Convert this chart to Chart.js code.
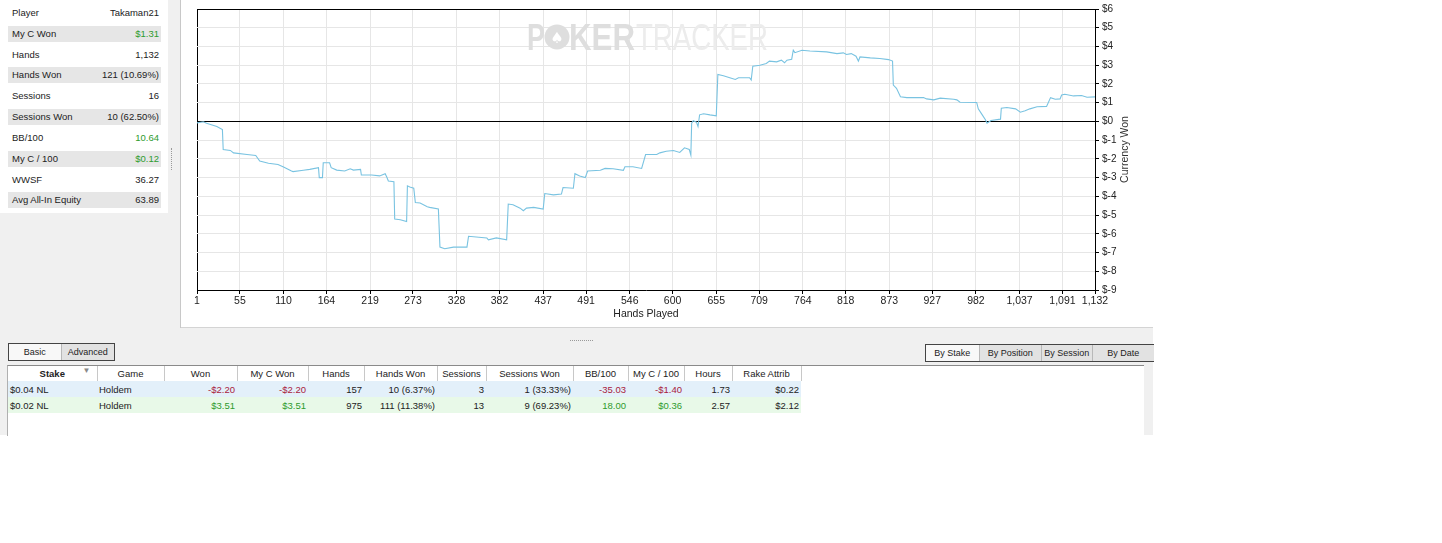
<!DOCTYPE html>
<html>
<head>
<meta charset="utf-8">
<title>Currency Won</title>
<script src="https://cdn.jsdelivr.net/npm/chart.js@4.4.1/dist/chart.umd.min.js"></script>
<style>
body { margin: 0; background: #fff; font-family: "Liberation Sans", Arial, sans-serif; font-size: 9.5px; color: #222; }
#app { position: absolute; left: 0; top: 0; width: 1153px; height: 435px; background: #f0f0f0; }
#stats { position: absolute; left: 0; top: 0; width: 168px; height: 213px; background: #fff; }
.row { position: absolute; left: 8px; width: 153px; height: 16px; line-height: 16px; }
.row.alt { background: #e6e6e6; }
.row .k { position: absolute; left: 4px; }
.row .v { position: absolute; right: 2px; }
.pos { color: #2e9b2e; }
.neg { color: #a8203c; }
#vsplit { position: absolute; left: 171px; top: 148px; height: 22px; border-left: 1px dotted #999; }
#panelLine { position: absolute; left: 180px; top: 0; width: 1px; height: 328px; background: #c8c8c8; }
#chartPanel { position: absolute; left: 181px; top: 0; width: 972px; height: 327px; background: #fff; border-bottom: 1px solid #d4d4d4; }
#chartPanel canvas { position: absolute; left: 0; top: 0; }
#hsplit { position: absolute; left: 570px; top: 340px; width: 23px; border-top: 1px dotted #999; }
.seg { position: absolute; border: 1px solid #444; height: 16px; display: flex; font-size: 9px; }
.seg div { height: 16px; line-height: 16px; text-align: center; border-left: 1px solid #b8b8b8; background: #e2e2e2; white-space: nowrap; overflow: hidden; }
.seg div:first-child { border-left: none; background: #f8f8f8; }
#tableBox { position: absolute; left: 7px; top: 365px; width: 1136px; height: 70px; background: #fff; border-top: 1px solid #8a8a8a; border-left: 1px solid #b0b0b0; }
table { border-collapse: collapse; table-layout: fixed; width: 793px; font-size: 9.5px; }
th { font-weight: normal; height: 15px; padding: 0; text-align: center; border-right: 1px solid #c8c8c8; white-space: nowrap; }
th.b { font-weight: bold; position: relative; }
th.b span { position: absolute; right: 6px; top: 0; color: #888; font-size: 8px; }
td { height: 16px; padding: 0 2px 0 0; text-align: right; white-space: nowrap; }
td.l { text-align: left; padding-left: 2px; }
tr.r1 td { background: #e3f0fa; }
tr.r2 td { background: #e8f9e8; }
</style>
</head>
<body>
<div id="app">
  <div id="stats">
    <div class="row" style="top:5px"><span class="k">Player</span><span class="v">Takaman21</span></div>
    <div class="row alt" style="top:26px"><span class="k">My C Won</span><span class="v pos">$1.31</span></div>
    <div class="row" style="top:47px"><span class="k">Hands</span><span class="v">1,132</span></div>
    <div class="row alt" style="top:67px"><span class="k">Hands Won</span><span class="v">121 (10.69%)</span></div>
    <div class="row" style="top:88px"><span class="k">Sessions</span><span class="v">16</span></div>
    <div class="row alt" style="top:109px"><span class="k">Sessions Won</span><span class="v">10 (62.50%)</span></div>
    <div class="row" style="top:130px"><span class="k">BB/100</span><span class="v pos">10.64</span></div>
    <div class="row alt" style="top:151px"><span class="k">My C / 100</span><span class="v pos">$0.12</span></div>
    <div class="row" style="top:172px"><span class="k">WWSF</span><span class="v">36.27</span></div>
    <div class="row alt" style="top:192px"><span class="k">Avg All-In Equity</span><span class="v">63.89</span></div>
  </div>
  <div id="vsplit"></div>
  <div id="panelLine"></div>
  <div id="chartPanel"><canvas id="grafico" width="972" height="327"></canvas></div>
  <div id="hsplit"></div>

  <div class="seg" style="left:8px;top:343px;width:105px">
    <div style="width:52px">Basic</div><div style="width:53px">Advanced</div>
  </div>
  <div class="seg" style="left:925px;top:344px;width:228px;border-right:none">
    <div style="width:53px">By Stake</div><div style="width:62px">By Position</div><div style="width:50px">By Session</div><div style="width:62px">By Date</div>
  </div>

  <div id="tableBox">
    <table>
      <colgroup>
        <col style="width:89px"><col style="width:67px"><col style="width:73px"><col style="width:71px">
        <col style="width:56px"><col style="width:73px"><col style="width:49px"><col style="width:87px">
        <col style="width:55px"><col style="width:56px"><col style="width:48px"><col style="width:69px">
      </colgroup>
      <tr>
        <th class="b">Stake<span>&#9660;</span></th><th>Game</th><th>Won</th><th>My C Won</th><th>Hands</th><th>Hands Won</th>
        <th>Sessions</th><th>Sessions Won</th><th>BB/100</th><th>My C / 100</th><th>Hours</th><th>Rake Attrib</th>
      </tr>
      <tr class="r1">
        <td class="l">$0.04 NL</td><td class="l">Holdem</td><td class="neg">-$2.20</td><td class="neg">-$2.20</td><td>157</td><td>10 (6.37%)</td>
        <td>3</td><td>1 (33.33%)</td><td class="neg">-35.03</td><td class="neg">-$1.40</td><td>1.73</td><td>$0.22</td>
      </tr>
      <tr class="r2">
        <td class="l">$0.02 NL</td><td class="l">Holdem</td><td class="pos">$3.51</td><td class="pos">$3.51</td><td>975</td><td>111 (11.38%)</td>
        <td>13</td><td>9 (69.23%)</td><td class="pos">18.00</td><td class="pos">$0.36</td><td>2.57</td><td>$2.12</td>
      </tr>
    </table>
  </div>
</div>

<script>
// manos jugadas y dinero ganado acumulado
const hands = [1, 9, 13, 26, 33, 34, 43, 47, 64, 75, 80, 91, 103, 110, 120, 122, 135, 143, 154, 155,
  159, 160, 168, 170, 177, 187, 194, 198, 207, 208, 221, 231, 238, 240, 242, 249, 250, 257, 265, 266,
  269, 274, 276, 282, 291, 294, 305, 307, 313, 324, 341, 343, 366, 368, 378, 391, 393, 399, 408, 412,
  416, 425, 437, 439, 450, 460, 462, 475, 477, 483, 490, 493, 509, 515, 525, 538, 540, 550, 561, 566,
  580, 584, 592, 601, 609, 615, 621, 623, 624, 626, 630, 632, 634, 639, 647, 655, 657, 664, 672, 679,
  683, 691, 697, 699, 701, 710, 718, 722, 731, 737, 741, 744, 750, 752, 754, 763, 773, 794, 807, 815,
  819, 825, 831, 834, 836, 849, 861, 872, 877, 878, 882, 887, 895, 916, 920, 929, 937, 954, 958, 962,
  983, 985, 990, 994, 996, 1001, 1013, 1014, 1021, 1032, 1038, 1044, 1050, 1059, 1071, 1076, 1082, 1088, 1090, 1094,
  1105, 1115, 1122, 1132];
const won = [-0.08, -0.02, -0.1, -0.27, -0.44, -1.5, -1.55, -1.68, -1.77, -1.82, -2.12, -2.23, -2.3, -2.44, -2.65, -2.68, -2.61, -2.56, -2.47, -3.0,
  -3.0, -2.21, -2.21, -2.47, -2.6, -2.65, -2.53, -2.6, -2.56, -2.86, -2.86, -2.91, -2.79, -2.97, -3.18, -3.22, -5.21, -5.25, -5.35, -3.44,
  -3.5, -3.57, -4.33, -4.36, -4.56, -4.59, -4.68, -6.71, -6.8, -6.71, -6.71, -6.13, -6.22, -6.32, -6.22, -6.32, -4.41, -4.45, -4.63, -4.77,
  -4.63, -4.59, -4.68, -3.85, -3.92, -3.88, -3.53, -3.57, -2.79, -2.91, -3.0, -2.65, -2.61, -2.51, -2.53, -2.61, -2.42, -2.42, -2.51, -1.77,
  -1.77, -1.68, -1.59, -1.55, -1.66, -1.41, -1.5, -1.8, -0.09, 0.04, -0.04, -0.27, 0.35, 0.41, 0.35, 0.3, 2.51, 2.44, 2.33, 2.24,
  2.33, 2.33, 2.33, 2.21, 2.95, 3.0, 3.09, 3.22, 3.18, 3.27, 3.13, 3.27, 3.32, 3.8, 3.67, 3.8, 3.76, 3.71, 3.62, 3.66,
  3.57, 3.62, 3.48, 3.22, 3.44, 3.39, 3.36, 3.3, 3.22, 1.94, 1.77, 1.32, 1.27, 1.27, 1.2, 1.15, 1.24, 1.18, 1.15, 1.02,
  1.01, 0.67, 0.35, 0.09, -0.09, 0.05, 0.12, 0.7, 0.74, 0.67, 0.49, 0.57, 0.67, 0.78, 0.8, 1.27, 1.18, 1.2, 1.41, 1.45,
  1.36, 1.38, 1.29, 1.31];
const handTicks = [1, 55, 110, 164, 219, 273, 328, 382, 437, 491, 546, 600, 655, 709, 764, 818, 873, 927, 982, 1037, 1091, 1132];
const wonMin = -9;
const wonMax = 6;

const puntos = hands.map((h, i) => ({ x: h, y: won[i] }));
const fuente = '"Liberation Sans", Arial, sans-serif';

// marca de agua y titulo del eje derecho
const extras = {
    id: 'extras',
    beforeDatasetsDraw(chart) {
        const ctx = chart.ctx;
        ctx.save();
        ctx.textBaseline = 'alphabetic';
        ctx.textAlign = 'left';
        ctx.font = 'bold 37px ' + fuente;
        ctx.fillStyle = '#dedede';
        ctx.fillText('P', 346, 50, 18);
        ctx.beginPath();
        ctx.arc(376, 37, 12.5, 0, Math.PI * 2);
        ctx.fill();
        ctx.fillStyle = '#fff';
        ctx.font = 'bold 15px "DejaVu Sans"';
        ctx.textAlign = 'center';
        ctx.fillText('\u2660', 376, 43);
        ctx.textAlign = 'left';
        ctx.fillStyle = '#dedede';
        ctx.font = 'bold 37px ' + fuente;
        ctx.fillText('KER', 388, 50, 66);
        ctx.fillStyle = '#ececec';
        ctx.font = '37px ' + fuente;
        ctx.fillText('TRACKER', 455, 50, 132);
        ctx.restore();
    },
    afterDraw(chart) {
        const ctx = chart.ctx;
        const area = chart.chartArea;
        ctx.save();
        ctx.translate(944, (area.top + area.bottom) / 2);
        ctx.rotate(-Math.PI / 2);
        ctx.font = '10.5px ' + fuente;
        ctx.fillStyle = '#333';
        ctx.textAlign = 'center';
        ctx.textBaseline = 'middle';
        ctx.fillText('Currency Won', 0, 0);
        ctx.restore();
    }
};

const config = {
    type: 'line',
    data: {
        datasets: [{
            label: 'Currency Won',
            data: puntos,
            borderColor: '#79c3e1',
            borderWidth: 1.1,
            pointRadius: 0,
            tension: 0,
            fill: false
        }]
    },
    options: {
        responsive: false,
        animation: false,
        events: [],
        layout: { padding: { left: 16, top: 7, right: 0, bottom: 0 } },
        plugins: { legend: { display: false }, tooltip: { enabled: false } },
        scales: {
            x: {
                type: 'linear',
                min: handTicks[0],
                max: handTicks[handTicks.length - 1],
                afterBuildTicks: s => { s.ticks = handTicks.map(v => ({ value: v })); },
                afterFit: s => { s.height = 37; },
                ticks: {
                    autoSkip: false,
                    maxRotation: 0,
                    padding: 1,
                    color: '#222',
                    font: { size: 10.5, family: fuente },
                    callback: v => v.toLocaleString('en-US')
                },
                grid: {
                    color: c => (c.tick && c.tick.value === handTicks[0]) ? '#000' : '#e6e6e6',
                    tickColor: '#000',
                    tickLength: 4
                },
                border: { display: true, color: '#000' },
                title: {
                    display: true,
                    text: 'Hands Played',
                    color: '#222',
                    font: { size: 10.5, family: fuente },
                    padding: { top: 0, bottom: 7 }
                }
            },
            y: {
                position: 'right',
                min: wonMin,
                max: wonMax,
                afterFit: s => { s.width = 58; },
                ticks: {
                    stepSize: 1,
                    padding: 3,
                    color: '#222',
                    font: { size: 10, family: fuente },
                    callback: v => '$' + v
                },
                grid: {
                    color: c => (c.tick && (c.tick.value === 0 || c.tick.value === wonMax)) ? '#000' : '#e6e6e6',
                    tickColor: '#000',
                    tickLength: 4
                },
                border: { display: true, color: '#000' }
            }
        }
    },
    plugins: [extras]
};

const chart = new Chart(document.getElementById('grafico'), config);
</script>
</body>
</html>
